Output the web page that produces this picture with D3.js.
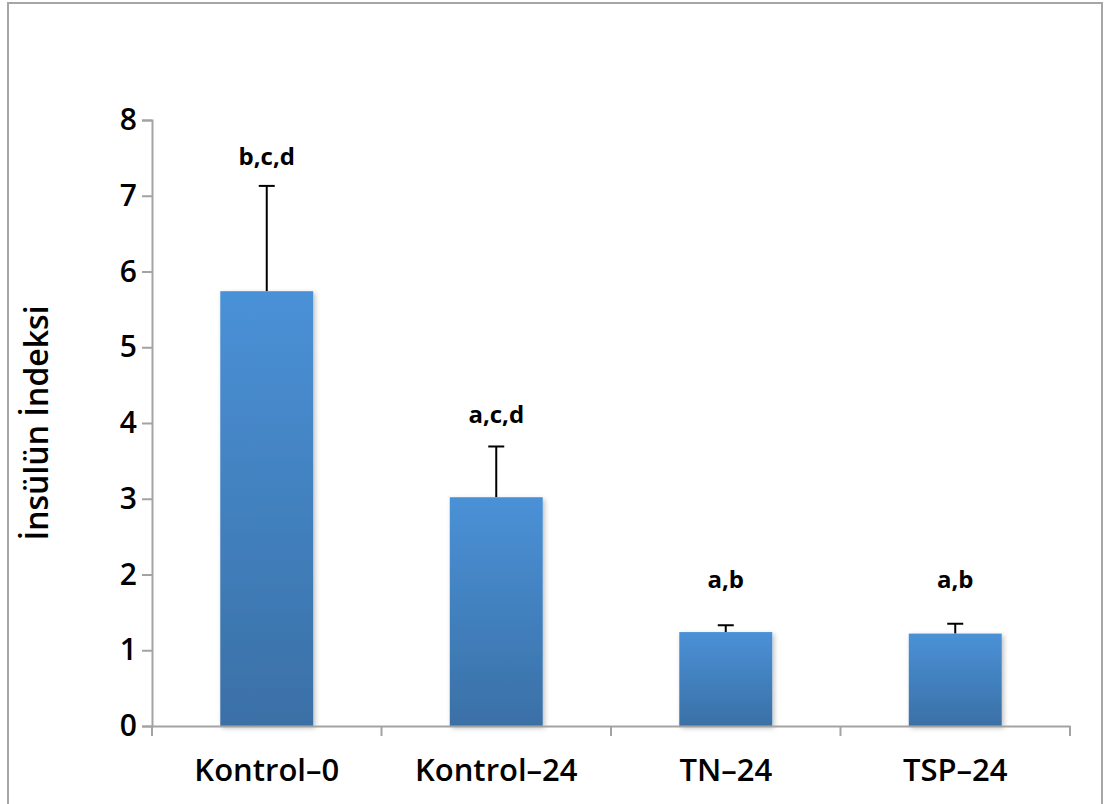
<!DOCTYPE html>
<html>
<head>
<meta charset="utf-8">
<script src="https://cdn.jsdelivr.net/npm/d3@7"></script>
<style>
  body { margin: 0; background: #fff; }
  svg { display: block; }
  .axis path, .axis line { stroke: #a3a3a3; stroke-width: 2; }
  .axis text { font-family: "Open Sans", sans-serif; font-weight: 600; fill: #000; }
</style>
</head>
<body>
<svg id="chart" width="1104" height="804"></svg>
<script>
// data
const groups   = ['Kontrol–0', 'Kontrol–24', 'TN–24', 'TSP–24'];
const means    = [5.74, 3.02, 1.24, 1.22];
const errTops  = [7.13, 3.69, 1.33, 1.35];
const letters  = ['b,c,d', 'a,c,d', 'a,b', 'a,b'];
const letterAt = [7.4, 4.0, 1.82, 1.82];
const yTicks   = [0, 1, 2, 3, 4, 5, 6, 7, 8];
const yTitle   = 'İnsülün İndeksi';

const svg = d3.select('#chart');

// outer frame
svg.append('rect')
  .attr('x', 8).attr('y', 3)
  .attr('width', 1094).attr('height', 820)
  .attr('fill', 'none')
  .attr('stroke', '#a6a6a6')
  .attr('stroke-width', 2);

const x = d3.scaleBand().domain(groups).range([152, 1070]);
const y = d3.scaleLinear().domain([0, 8]).range([726, 120]);
const barW = x.bandwidth() * 0.405;

// gradient + shadow for bars
const defs = svg.append('defs');
const grad = defs.append('linearGradient')
  .attr('id', 'barGrad')
  .attr('x1', 0).attr('y1', 0).attr('x2', 0).attr('y2', 1);
grad.append('stop').attr('offset', '0%').attr('stop-color', '#4a91d7');
grad.append('stop').attr('offset', '100%').attr('stop-color', '#3a70a6');

const shadow = defs.append('filter').attr('id', 'shadow')
  .attr('x', '-20%').attr('y', '-5%').attr('width', '140%').attr('height', '115%');
shadow.append('feDropShadow')
  .attr('dx', 2).attr('dy', 2).attr('stdDeviation', 2.5)
  .attr('flood-color', '#000').attr('flood-opacity', 0.25);

const rows = groups.map((g, i) => ({ g, mean: means[i], top: errTops[i], letter: letters[i], at: letterAt[i] }));

// error bars (upper only, bar covers the rest)
const err = svg.append('g').selectAll('g').data(rows).join('g')
  .attr('transform', d => `translate(${x(d.g) + x.bandwidth() / 2},0)`);
err.append('line')
  .attr('y1', d => y(d.mean)).attr('y2', d => y(d.top))
  .attr('stroke', '#000').attr('stroke-width', 2);
err.append('line')
  .attr('x1', -8).attr('x2', 8)
  .attr('y1', d => y(d.top)).attr('y2', d => y(d.top))
  .attr('stroke', '#000').attr('stroke-width', 2);

// bars
svg.append('g').selectAll('rect').data(rows).join('rect')
  .attr('x', d => x(d.g) + (x.bandwidth() - barW) / 2)
  .attr('y', d => y(d.mean))
  .attr('width', barW)
  .attr('height', d => y(0) - y(d.mean))
  .attr('fill', 'url(#barGrad)')
  .attr('filter', 'url(#shadow)');

// significance letters
svg.append('g').selectAll('text').data(rows).join('text')
  .attr('x', d => x(d.g) + x.bandwidth() / 2)
  .attr('y', d => y(d.at))
  .attr('text-anchor', 'middle')
  .attr('font-family', '"Open Sans", sans-serif')
  .attr('font-weight', 'bold')
  .attr('font-size', 24)
  .text(d => d.letter);

// y axis
const yAxis = svg.append('g')
  .attr('class', 'axis')
  .attr('transform', 'translate(152,0)')
  .call(d3.axisLeft(y).tickValues(yTicks).tickSizeOuter(0).tickSize(10).tickPadding(5));
yAxis.selectAll('text').attr('font-size', 30);

// x axis
const xAxis = svg.append('g')
  .attr('class', 'axis')
  .attr('transform', `translate(0,${y(0)})`)
  .call(d3.axisBottom(x).tickSize(0).tickPadding(33));
xAxis.selectAll('text').attr('font-size', 31);
// category separator ticks
xAxis.selectAll('.sep').data(x.domain().map(d => x(d)).concat([x.range()[1]]))
  .join('line')
  .attr('class', 'sep')
  .attr('x1', d => d).attr('x2', d => d)
  .attr('y1', 0).attr('y2', 10);

// y title
svg.append('text')
  .attr('transform', 'translate(48,423) rotate(-90)')
  .attr('text-anchor', 'middle')
  .attr('font-family', '"Open Sans", sans-serif')
  .attr('font-weight', 600)
  .attr('font-size', 32)
  .text(yTitle);
</script>
</body>
</html>
